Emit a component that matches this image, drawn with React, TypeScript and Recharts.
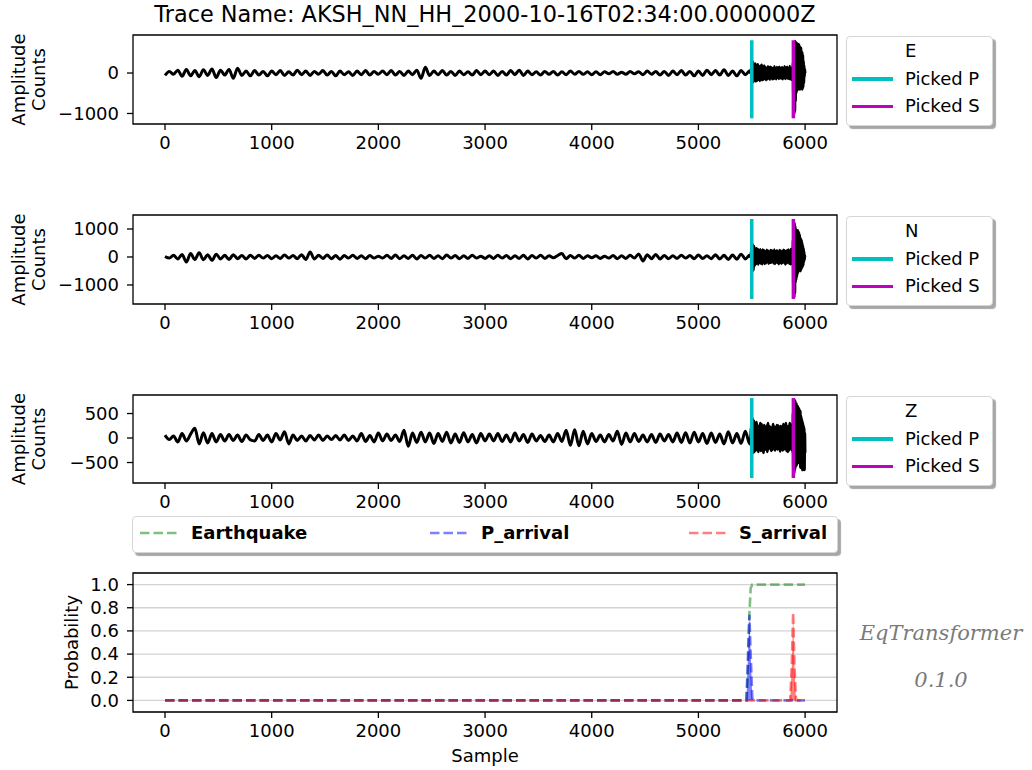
import React from 'react';
import {
  ComposedChart,
  LineChart,
  Line,
  Area,
  XAxis,
  YAxis,
  ReferenceArea,
  ReferenceLine,
  CartesianGrid,
} from 'recharts';

const TITLE = 'Trace Name: AKSH_NN_HH_2000-10-16T02:34:00.000000Z';
const SAMPLE_TICKS = [0, 1000, 2000, 3000, 4000, 5000, 6000];
const SAMPLE_DOMAIN = [-300, 6299];
const P_PICK = 5500;
const S_PICK = 5890;

// Each trace: background noise every 40 samples from 0, P coda every 6 samples
// from 5490, S burst every 3 samples from 5882 (counts).
const E_NOISE = [
  -60, 40, -30, 70, -80, 90, -70, 60, -90, 80, -60, 100, -110, 70, -50, 90, -130, 120, -60, 50, -70,
  60, -50, 40, -70, 50, -40, 60, -60, 30, -50, 70, -40, 50, -60, 40, -30, 60, -50, 40, -70, 50, -40, 30, -60, 50, -40, 60, -50, 40, -30,
  50, -40, 60, -50, 40, -60, 50, -40, 70, -130, 140, -60, 50, -40, 60, -50, 40, -60, 50, -40, 30, -50, 60, -40, 50,
  -40, 50, -60, 40, -50, 60, -40, 70, -60, 50, -40, 30, -50, 40, -30, 40, -50, 30, -40, 50, -30, 40, -30, 30, -40,
  30, -40, 30, -20, 40, -30, 20, -30, 40, -20, 30, -40, 50, -30, 40, -50, 40, -60, 50, -40, 60, -50, 40, -70, 50, -60, 70, -40, 60, -50, 80, -60, 50, -70, 60, -40, 50,
];
const E_CODA = [
  0, 120, -180, 280, -220, 200, -150, 230, -200, 160,
  -180, 210, -160, 140, -190, 170, -150, 200, -170, 130,
  -160, 180, -140, 150, -170, 120, -150, 160, -130, 140,
  -160, 150, -120, 130, -150, 110, -140, 160, -130, 120,
  -150, 140, -110, 130, -140, 150, -120, 110, -130, 140,
  -150, 120, -110, 160, -140, 130, -120, 150, -130, 110,
  -140, 170, -150, 120, -160, 140,
];
const E_BURST = [
  130, -160, 250, -600, 700, -1000, 750, -950, 780, -700,
  760, -500, 740, -450, 700, -420, 720, -400, 680, -380,
  700, -350, 650, -400, 600, -380, 620, -350, 550, -300,
  500, -400, 450, -350, 300, -250, 200, -100, 100, 0,
];

const N_NOISE = [
  20, -40, 60, -70, 90, -180, 120, -90, 150, -100, 80, -120, 100, -70, 60, -90, 80, -60, 50, -70, 60,
  -50, 60, -40, 50, -60, 40, -50, 70, -40, 50, -60, 80, -90, 180, -70, 60, -50, 70, -60, 50, -80, 50, -40, 60, -50, 40, -60, 50, -40, 30,
  -40, 60, -50, 70, -60, 40, -50, 60, -70, 50, -40, 60, -50, 40, -60, 70, -40, 50, -60, 40, -50, 60, -40, 30, -50,
  40, -50, 60, -40, 50, -60, 40, -50, 60, -70, 50, -40, 60, -50, 40, -30, 50, 120, -60, 50, -40, 60, -50, 40, -30,
  40, -50, 30, -40, 50, -60, 40, -50, 60, -40, 110, -140, 80, -60, 90, -70, 50, -60, 40, -50, 60, -40, 50, -60, 70, -50, 40, -60, 80, -70, 60, -90, 70, -80, 100, -70, 60,
];
const N_CODA = [
  0, 200, -350, 450, -470, 380, -300, 260, -250, 300,
  -220, 280, -260, 240, -200, 270, -230, 210, -250, 260,
  -190, 230, -240, 200, -220, 250, -180, 220, -230, 190,
  -210, 240, -200, 230, -180, 210, -220, 260, -240, 200,
  -190, 230, -210, 180, -250, 240, -200, 220, -230, 190,
  -210, 250, -180, 230, -260, 200, -220, 240, -190, 260,
  -230, 210, -250, 280, -240, 220,
];
const N_BURST = [
  200, -250, 600, -1000, 1250, -1430, 1200, -1300, 1100, -900,
  1000, -800, 900, -700, 800, -600, 950, -540, 900, -500,
  850, -450, 800, -400, 700, -500, 650, -450, 600, -400,
  500, -350, 400, -300, 300, -200, 200, -100, 50, 0,
];

const Z_NOISE = [
  60, -30, 40, -80, 90, -60, 80, 200, -120, 110, -100, 90, -80, 70, -60, 70, -50, 60, -70, 60, -40,
  -60, 70, -50, 60, -80, 90, -40, 130, -120, 60, -50, 40, -60, 50, -40, 60, -50, 40, -30, 50, -40, 60, -50, 40, -60, 90, -70, 50, -80, 100,
  -60, 80, -50, 60, -70, 160, -170, 100, -90, 120, -80, 100, -110, 90, -70, 120, -100, 80, -90, 110, -80, 70, -100, 90, -60,
  80, -60, 90, -70, 60, -80, 100, -60, 70, -90, 80, -60, 50, -70, 60, -80, 90, -70, 160, -150, 170, -160, 140, -120, 90,
  -70, 60, -80, 70, -60, 140, -130, 100, -80, 90, -70, 60, -80, 70, -90, 80, -60, 70, -80, 100, -90, 110, -100, 120, -80, 90, -110, 100, -90, 80, -120, 130, -100, 90, -110, 140, -120,
];
const Z_CODA = [
  0, 250, -200, 400, -300, 350, -280, 300, -250, 320,
  -200, 250, -280, 220, -180, 300, -260, 280, -220, 200,
  -300, 260, -240, 180, -200, 250, -280, 300, -220, 240,
  -180, 220, -260, 200, -240, 280, -200, 230, -250, 210,
  -190, 260, -230, 250, -200, 220, -270, 240, -210, 200,
  -250, 280, -230, 260, -200, 300, -260, 240, -280, 220,
  -250, 300, -220, 260, -240, 280,
];
const Z_BURST = [
  250, -300, 500, -600, 775, -715, 700, -650, 760, -600,
  650, -500, 700, -550, 600, -450, 650, -400, 550, -500,
  600, -450, 500, -400, 550, -600, 450, -500, 400, -450,
  350, -650, 300, -600, 250, -500, 200, -650, 100, -300,
];

const E_TICKS = [-1000, 0];
const N_TICKS = [-1000, 0, 1000];
const Z_TICKS = [-500, 0, 500];
const PROB_TICKS = [0, 0.2, 0.4, 0.6, 0.8, 1.0];

// model outputs
const PROB_SAMPLES = [0, 5450, 5465, 5478, 5490, 5505, 5520, 5860, 5875, 5888, 5900, 5915, 5999];
const EQ_PROB = [0, 0, 0.25, 0.75, 0.97, 1.0, 1.0, 1.0, 1.0, 1.0, 1.0, 1.0, 1.0];
const P_PROB = [0, 0, 0.4, 0.74, 0.4, 0.02, 0, 0, 0, 0, 0, 0, 0];
const S_PROB = [0, 0, 0, 0, 0, 0, 0, 0, 0.3, 0.76, 0.3, 0, 0];

const FONT = '"DejaVu Sans", sans-serif';
const FS = 18;
const TICK = { fill: '#000', fontSize: FS };
const TICK_LINE = { stroke: '#000', strokeWidth: 1.3 };
const PICK_P = '#00bfbf';
const PICK_S = '#bf00bf';
const PLOT_LEFT = 133;
const PLOT_RIGHT = 837;
const CHART_W = 850;

const signed = (v: number) => (v < 0 ? `\u2212${Math.abs(v)}` : `${v}`);

const buildTrace = (noise: number[], coda: number[], burst: number[]) => [
  ...noise.map((amp, i) => ({ sample: i * 40, amp })),
  ...coda.map((amp, i) => ({ sample: 5490 + i * 6, amp })),
  ...burst.map((amp, i) => ({ sample: 5882 + i * 3, amp })),
];

const probRows = PROB_SAMPLES.map((sample, i) => ({
  sample,
  eq: EQ_PROB[i],
  p: P_PROB[i],
  s: S_PROB[i],
}));

// rotated y-axis title, one baseline per line
const AxisTitle = (props: any) => {
  const { viewBox, lines, baseX } = props;
  const cx = viewBox.x + baseX;
  const cy = viewBox.y + viewBox.height / 2;
  return (
    <text transform={`rotate(-90, ${cx}, ${cy})`} x={cx} y={cy} textAnchor="middle" fontSize={FS} fill="#000">
      {lines.map((t: string, i: number) => (
        <tspan key={t} x={cx} dy={i === 0 ? 0 : 20}>
          {t}
        </tspan>
      ))}
    </text>
  );
};

const BottomTitle = (props: any) => {
  const { viewBox, text, baseY } = props;
  return (
    <text x={viewBox.x + viewBox.width / 2} y={viewBox.y + baseY} textAnchor="middle" fontSize={FS} fill="#000">
      {text}
    </text>
  );
};

const legendBox: React.CSSProperties = {
  position: 'absolute',
  background: '#fff',
  border: '1px solid #d6d6d6',
  borderRadius: 4,
  boxShadow: '3px 3px 1px rgba(0,0,0,0.35)',
  boxSizing: 'border-box',
};

function PickLegend({ top, channel }: { top: number; channel: string }) {
  const rows = [
    { label: channel, color: '' },
    { label: 'Picked P', color: PICK_P },
    { label: 'Picked S', color: PICK_S },
  ];
  return (
    <div style={{ ...legendBox, left: 846, top, width: 147, height: 90 }}>
      {rows.map((r, i) => (
        <div key={r.label} style={{ position: 'absolute', left: 0, top: 4 + i * 27.5, width: '100%', height: 20 }}>
          {r.color && (
            <div style={{ position: 'absolute', left: 5, top: 8.5, width: 41, height: 3.5, background: r.color }} />
          )}
          <div style={{ position: 'absolute', left: 58, top: 0, fontSize: FS, lineHeight: '20px' }}>{r.label}</div>
        </div>
      ))}
    </div>
  );
}

function TracePanel(props: {
  top: number;
  height: number;
  rows: { sample: number; amp: number }[];
  domain: number[];
  ticks: number[];
  pickRange: number[];
  channel: string;
}) {
  const { top, height, rows, domain, ticks, pickRange, channel } = props;
  return (
    <>
      <div style={{ position: 'absolute', left: 0, top: top - 5 }}>
        <LineChart
          width={CHART_W}
          height={height + 40}
          data={rows}
          margin={{ top: 5, right: CHART_W - PLOT_RIGHT, bottom: 0, left: 0 }}
        >
          <XAxis
            dataKey="sample"
            type="number"
            domain={SAMPLE_DOMAIN}
            ticks={SAMPLE_TICKS}
            allowDataOverflow
            interval={0}
            height={35}
            axisLine={false}
            tickLine={TICK_LINE}
            tickSize={6}
            tickMargin={6}
            tick={TICK}
          />
          <YAxis
            type="number"
            domain={domain}
            ticks={ticks}
            allowDataOverflow
            interval={0}
            width={PLOT_LEFT}
            axisLine={false}
            tickLine={TICK_LINE}
            tickSize={6}
            tickMargin={8}
            tick={TICK}
            tickFormatter={signed}
            label={<AxisTitle lines={['Amplitude', 'Counts']} baseX={25} />}
          />
          <Line dataKey="amp" type="monotone" stroke="#000" strokeWidth={3} dot={false} isAnimationActive={false} />
          <ReferenceLine
            segment={[{ x: P_PICK, y: pickRange[0] }, { x: P_PICK, y: pickRange[1] }]}
            stroke={PICK_P}
            strokeWidth={3.5}
          />
          <ReferenceLine
            segment={[{ x: S_PICK, y: pickRange[0] }, { x: S_PICK, y: pickRange[1] }]}
            stroke={PICK_S}
            strokeWidth={3.5}
          />
          <ReferenceArea
            x1={SAMPLE_DOMAIN[0]}
            x2={SAMPLE_DOMAIN[1]}
            y1={domain[0]}
            y2={domain[1]}
            fill="none"
            stroke="#000"
            strokeWidth={1.3}
            ifOverflow="visible"
          />
        </LineChart>
      </div>
      <PickLegend top={top + 1} channel={channel} />
    </>
  );
}

const dash = '9.5 4';

function ProbLegend() {
  const items = [
    { label: 'Earthquake', color: '#008000', handle: 7, text: 58 },
    { label: 'P_arrival', color: '#0000ff', handle: 297, text: 348 },
    { label: 'S_arrival', color: '#ff0000', handle: 556, text: 606 },
  ];
  return (
    <div style={{ ...legendBox, left: 132, top: 516, width: 706, height: 37 }}>
      {items.map((it) => (
        <React.Fragment key={it.label}>
          <svg width={40} height={6} style={{ position: 'absolute', left: it.handle, top: 13 }}>
            <line x1={0} y1={3} x2={40} y2={3} stroke={it.color} strokeOpacity={0.5} strokeWidth={2.6} strokeDasharray={dash} />
          </svg>
          <div style={{ position: 'absolute', left: it.text, top: 5, fontSize: FS, lineHeight: '22px', fontWeight: 'bold' }}>
            {it.label}
          </div>
        </React.Fragment>
      ))}
    </div>
  );
}

const brand: React.CSSProperties = {
  position: 'absolute',
  left: 850,
  width: 182,
  textAlign: 'center',
  fontFamily: '"DejaVu Serif", serif',
  fontStyle: 'italic',
  fontSize: 21,
  lineHeight: '26px',
  color: '#7a7a7a',
};

export default function App() {
  return (
    <div
      style={{
        position: 'absolute',
        left: 0,
        top: 0,
        width: 1032,
        height: 770,
        background: '#fff',
        fontFamily: FONT,
        color: '#000',
        overflow: 'hidden',
      }}
    >
      <div
        style={{
          position: 'absolute',
          left: PLOT_LEFT - 20,
          width: PLOT_RIGHT - PLOT_LEFT + 40,
          top: 1,
          textAlign: 'center',
          fontSize: 22.4,
          lineHeight: '26px',
        }}
      >
        {TITLE}
      </div>

      <TracePanel top={35} height={89} rows={buildTrace(E_NOISE, E_CODA, E_BURST)} domain={[-1260, 940]} ticks={E_TICKS} pickRange={[-1120, 810]} channel="E" />
      <TracePanel top={215} height={89} rows={buildTrace(N_NOISE, N_CODA, N_BURST)} domain={[-1680, 1500]} ticks={N_TICKS} pickRange={[-1500, 1357]} channel="N" />
      <TracePanel top={395} height={88} rows={buildTrace(Z_NOISE, Z_CODA, Z_BURST)} domain={[-918, 878]} ticks={Z_TICKS} pickRange={[-816, 816]} channel="Z" />

      <ProbLegend />

      <div style={{ position: 'absolute', left: 0, top: 568 }}>
        <ComposedChart
          width={CHART_W}
          height={5 + 139 + 60}
          data={probRows}
          margin={{ top: 5, right: CHART_W - PLOT_RIGHT, bottom: 0, left: 0 }}
        >
          <CartesianGrid vertical={false} stroke="#d3d3d3" strokeWidth={1.3} />
          <XAxis
            dataKey="sample"
            type="number"
            domain={SAMPLE_DOMAIN}
            ticks={SAMPLE_TICKS}
            allowDataOverflow
            interval={0}
            height={60}
            axisLine={false}
            tickLine={TICK_LINE}
            tickSize={6}
            tickMargin={6}
            tick={TICK}
            label={<BottomTitle text="Sample" baseY={50} />}
          />
          <YAxis
            type="number"
            domain={[-0.1, 1.1]}
            ticks={PROB_TICKS}
            allowDataOverflow
            interval={0}
            width={PLOT_LEFT}
            axisLine={false}
            tickLine={TICK_LINE}
            tickSize={6}
            tickMargin={8}
            tick={TICK}
            tickFormatter={(v: number) => v.toFixed(1)}
            label={<AxisTitle lines={['Probability']} baseX={78} />}
          />
          <Line dataKey="eq" type="linear" stroke="#008000" strokeOpacity={0.5} strokeWidth={2.6} strokeDasharray={dash} dot={false} isAnimationActive={false} />
          <Area dataKey="p" type="linear" stroke="none" fill="#0000ff" fillOpacity={0.5} isAnimationActive={false} />
          <Line dataKey="p" type="linear" stroke="#0000ff" strokeOpacity={0.5} strokeWidth={2.6} strokeDasharray={dash} dot={false} isAnimationActive={false} />
          <Area dataKey="s" type="linear" stroke="none" fill="#ff0000" fillOpacity={0.5} isAnimationActive={false} />
          <Line dataKey="s" type="linear" stroke="#ff0000" strokeOpacity={0.5} strokeWidth={2.6} strokeDasharray={dash} dot={false} isAnimationActive={false} />
          <ReferenceArea
            x1={SAMPLE_DOMAIN[0]}
            x2={SAMPLE_DOMAIN[1]}
            y1={-0.1}
            y2={1.1}
            fill="none"
            stroke="#000"
            strokeWidth={1.3}
            ifOverflow="visible"
          />
        </ComposedChart>
      </div>

      <div style={{ ...brand, top: 620 }}>EqTransformer</div>
      <div style={{ ...brand, top: 667 }}>0.1.0</div>
    </div>
  );
}
